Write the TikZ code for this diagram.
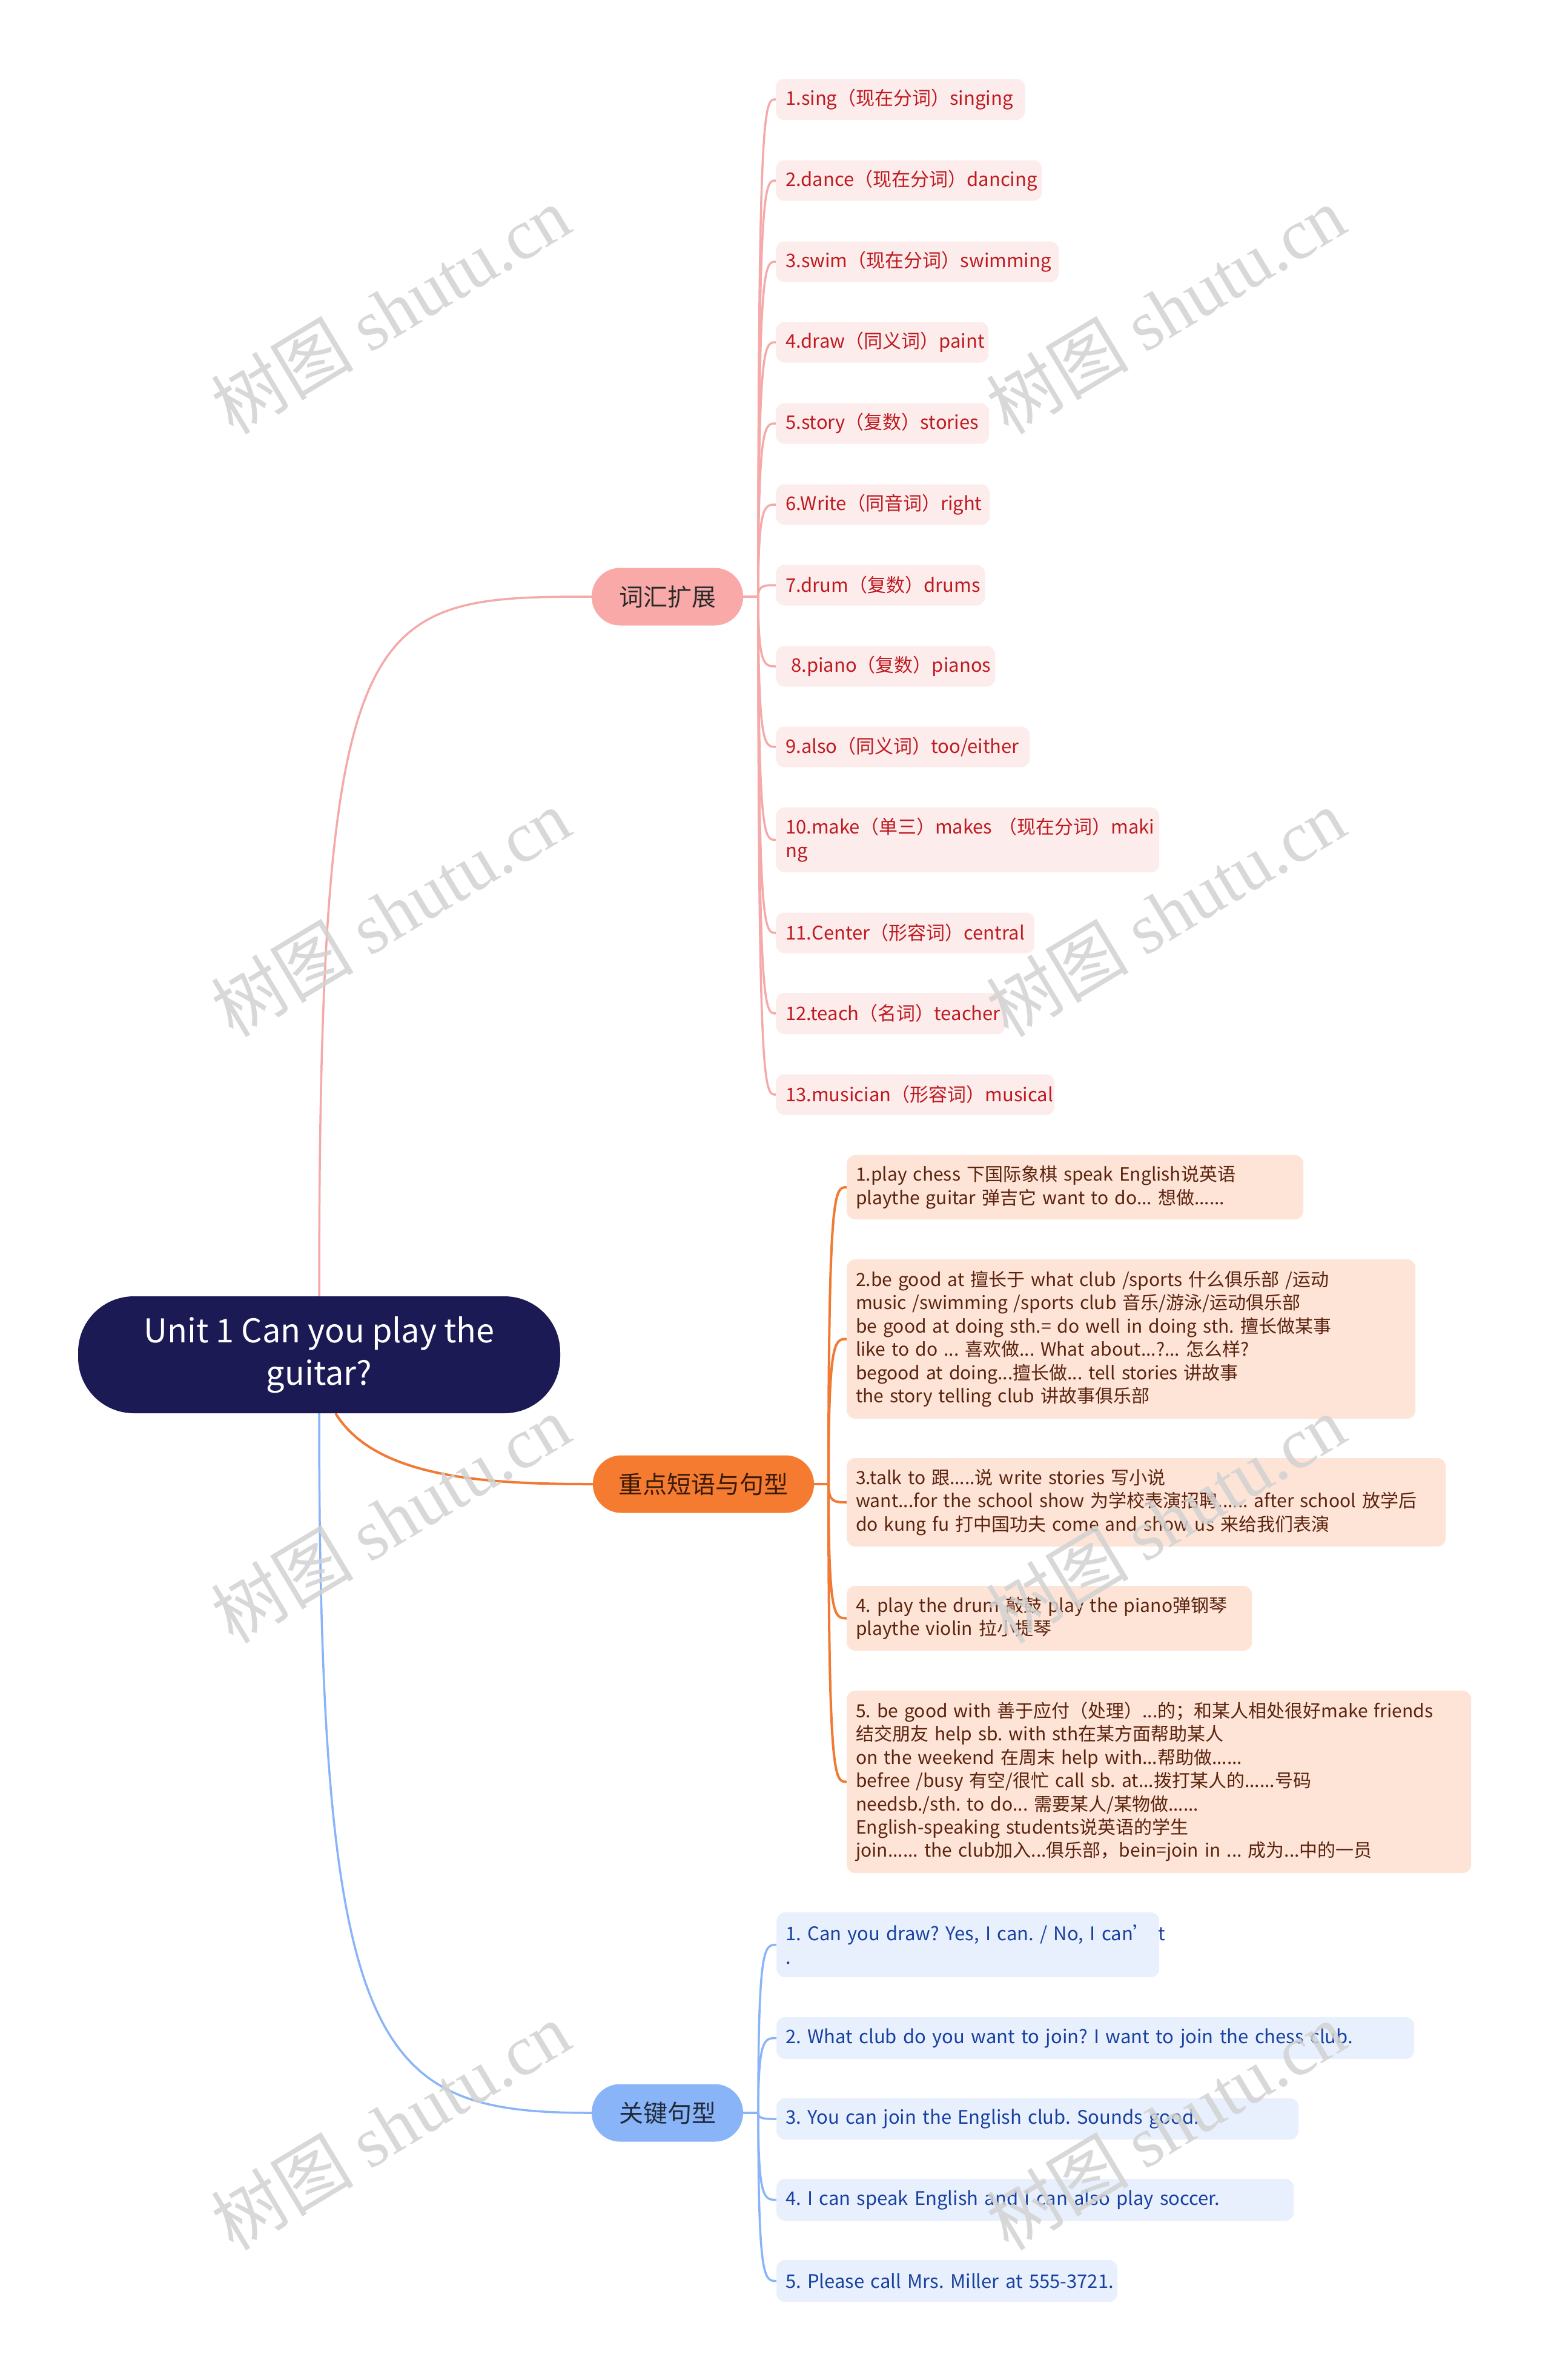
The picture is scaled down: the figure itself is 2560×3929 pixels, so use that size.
\documentclass[tikz,border=0pt]{standalone}
\usepackage{fontspec}
\setmainfont{Noto Sans CJK SC}
\newfontfamily\wmfont{Liberation Serif}
\usetikzlibrary{calc,backgrounds}
\definecolor{rootc}{HTML}{1B1A55}
\definecolor{vfill}{HTML}{F8A9A8}
\definecolor{vline}{HTML}{F5A9A9}
\definecolor{vbox}{HTML}{FDECEC}
\definecolor{vtext}{HTML}{BE1A1F}
\definecolor{kfill}{HTML}{F57B31}
\definecolor{kline}{HTML}{F07A33}
\definecolor{kbox}{HTML}{FDE4D7}
\definecolor{ktext}{HTML}{5B230E}
\definecolor{sfill}{HTML}{8AB4F8}
\definecolor{sline}{HTML}{8AB4F8}
\definecolor{sbox}{HTML}{E8F0FD}
\definecolor{stext}{HTML}{1740A0}
\definecolor{ltext}{HTML}{2A2A2A}
\definecolor{ktxt}{HTML}{3A1A08}
\definecolor{stxt}{HTML}{1F2A3A}
\definecolor{wm}{HTML}{D2D2D2}
\newcommand\myl[1]{\mbox{#1}}
\frenchspacing
\begin{document}
\begin{tikzpicture}[x=1pt,y=-1pt,
  rootnode/.style={fill=rootc, rounded corners=92pt, minimum width=796pt, minimum height=193pt, inner sep=0pt, text=white, align=center, font=\fontsize{54}{70}\selectfont},
  lone/.style={rounded corners=47pt, minimum height=95pt, inner sep=0pt, font=\fontsize{40}{48}\selectfont},
  leaf/.style={anchor=west, rounded corners=14pt, inner ysep=0pt, align=left},
  vleaf/.style={leaf, fill=vbox, text=vtext, inner xsep=16pt, font=\fontsize{31}{38.5}\selectfont},
  kleaf/.style={leaf, fill=kbox, text=ktext, inner xsep=15pt, font=\fontsize{30}{38.4}\selectfont},
  sleaf/.style={leaf, fill=sbox, text=stext, inner xsep=15pt, font=\fontsize{31}{39}\selectfont},
  vcon/.style={draw=vline, line width=3.5pt},
  kcon/.style={draw=kline, line width=4pt},
  scon/.style={draw=sline, line width=3.5pt},
  wmark/.style={text=wm, opacity=0.85, rotate=31, font=\fontsize{118}{118}\selectfont, inner sep=0pt}
]
\useasboundingbox (0,0) rectangle (2560,3929);

% root and main branches
\node[rootnode] (root) at (527,2236.5) {Unit 1 Can you play the\\guitar?};
\node[lone, fill=vfill, text=ltext, minimum width=250pt] (v) at (1102,985) {词汇扩展};
\node[lone, fill=kfill, text=ktxt, minimum width=365pt] (k) at (1161.5,2450) {重点短语与句型};
\node[lone, fill=sfill, text=stxt, minimum width=250pt] (s) at (1102,3488) {关键句型};

\coordinate (vj) at (1252,985);
\coordinate (kj) at (1368,2450);
\coordinate (sj) at (1252,3488);

% vocabulary leaves
\node[vleaf, text width=379pt, minimum height=68pt] (p1) at (1281,164) {\myl{1.sing（现在分词）singing}};
\node[vleaf, text width=407pt, minimum height=67pt] (p2) at (1281,298) {\myl{2.dance（现在分词）dancing}};
\node[vleaf, text width=435pt, minimum height=67pt] (p3) at (1281,432) {\myl{3.swim（现在分词）swimming}};
\node[vleaf, text width=319pt, minimum height=67pt] (p4) at (1281,565) {\myl{4.draw（同义词）paint}};
\node[vleaf, text width=320pt, minimum height=67pt] (p5) at (1281,699) {\myl{5.story（复数）stories}};
\node[vleaf, text width=321pt, minimum height=67pt] (p6) at (1281,833) {\myl{6.Write（同音词）right}};
\node[vleaf, text width=313pt, minimum height=67pt] (p7) at (1281,966) {\myl{7.drum（复数）drums}};
\node[vleaf, text width=330pt, minimum height=67pt] (p8) at (1281,1100) {\myl{\hspace*{9pt}8.piano（复数）pianos}};
\node[vleaf, text width=387pt, minimum height=67pt] (p9) at (1281,1233) {\myl{9.also（同义词）too/either}};
\node[vleaf, text width=601pt, minimum height=107pt] (p10) at (1281,1386.5) {\myl{10.make（单三）makes （现在分词）maki}\\\myl{ng}};
\node[vleaf, text width=395pt, minimum height=67pt] (p11) at (1281,1540) {\myl{11.Center（形容词）central}};
\node[vleaf, text width=347pt, minimum height=68pt] (p12) at (1281,1673) {\myl{12.teach（名词）teacher}};
\node[vleaf, text width=428pt, minimum height=67pt] (p13) at (1281,1807) {\myl{13.musician（形容词）musical}};

% phrase leaves
\node[kleaf, text width=724pt, minimum height=106pt] (o1) at (1398,1960) {\myl{1.play chess 下国际象棋 speak English说英语}\\\myl{playthe guitar 弹吉它 want to do... 想做......}};
\node[kleaf, text width=909pt, minimum height=263pt] (o2) at (1398,2210.5) {\myl{2.be good at 擅长于 what club /sports 什么俱乐部 /运动}\\\myl{music /swimming /sports club 音乐/游泳/运动俱乐部}\\\myl{be good at doing sth.= do well in doing sth. 擅长做某事}\\\myl{like to do ... 喜欢做... What about...?... 怎么样?}\\\myl{begood at doing...擅长做... tell stories 讲故事}\\\myl{the story telling club 讲故事俱乐部}};
\node[kleaf, text width=959pt, minimum height=146pt] (o3) at (1398,2480) {\myl{3.talk to 跟.....说 write stories 写小说}\\\myl{want...for the school show 为学校表演招聘...... after school 放学后}\\\myl{do kung fu 打中国功夫 come and show us 来给我们表演}};
\node[kleaf, text width=639pt, minimum height=107pt] (o4) at (1398,2671.5) {\myl{4. play the drum 敲鼓 play the piano弹钢琴}\\\myl{playthe violin 拉小提琴}};
\node[kleaf, text width=1001pt, minimum height=301pt] (o5) at (1398,2941.5) {\myl{5. be good with 善于应付（处理）...的；和某人相处很好make friends}\\\myl{结交朋友 help sb. with sth在某方面帮助某人}\\\myl{on the weekend 在周末 help with...帮助做......}\\\myl{befree /busy 有空/很忙 call sb. at...拨打某人的......号码}\\\myl{needsb./sth. to do... 需要某人/某物做......}\\\myl{English-speaking students说英语的学生}\\\myl{join...... the club加入...俱乐部，bein=join in ... 成为...中的一员}};

% sentence leaves
\node[sleaf, text width=602pt, minimum height=107pt] (b1) at (1282,3210.5) {\myl{1. Can you draw? Yes, I can. / No, I can’ t}\\\myl{.}};
\node[sleaf, text width=1023pt, minimum height=69pt] (b2) at (1282,3364.5) {\myl{2. What club do you want to join? I want to join the chess club.}};
\node[sleaf, text width=832pt, minimum height=68pt] (b3) at (1282,3498) {\myl{3. You can join the English club. Sounds good.}};
\node[sleaf, text width=824pt, minimum height=69pt] (b4) at (1282,3631.5) {\myl{4. I can speak English and I can also play soccer.}};
\node[sleaf, text width=533pt, minimum height=69pt] (b5) at (1282,3765.5) {\myl{5. Please call Mrs. Miller at 555-3721.}};

\begin{scope}[on background layer]
\fill[white] (0,0) rectangle (2560,3929);
\draw[vcon] (root.north) .. controls (527,1000) and (600,985) .. (v.west);
\draw[kcon] ($(root.south)+(27,0)$) .. controls (620,2440) and (800,2450) .. (k.west);
\draw[scon] (root.south) .. controls (527,3400) and (620,3488) .. (s.west);
\draw[vcon] (v.east) -- (vj);
\draw[kcon] (k.east) -- (kj);
\draw[scon] (s.east) -- (sj);
\foreach \i in {1,...,13} \draw[vcon] (vj) .. controls (vj |- p\i.west) and ($(vj |- p\i.west)+(10,0)$) .. (p\i.west);
\foreach \i in {1,...,5} \draw[kcon] (kj) .. controls (kj |- o\i.west) and ($(kj |- o\i.west)+(10,0)$) .. (o\i.west);
\foreach \i in {1,...,5} \draw[scon] (sj) .. controls (sj |- b\i.west) and ($(sj |- b\i.west)+(10,0)$) .. (b\i.west);
\end{scope}

% watermarks
\node[wmark] (w1) at (645,511) {树图 {\wmfont shutu.cn}};
\node[wmark] (w2) at (1925,511) {树图 {\wmfont shutu.cn}};
\node[wmark] (w3) at (645,1506) {树图 {\wmfont shutu.cn}};
\node[wmark] (w4) at (1925,1506) {树图 {\wmfont shutu.cn}};
\node[wmark] (w5) at (645,2507) {树图 {\wmfont shutu.cn}};
\node[wmark] (w6) at (1925,2507) {树图 {\wmfont shutu.cn}};
\node[wmark] (w7) at (645,3509) {树图 {\wmfont shutu.cn}};
\node[wmark] (w8) at (1925,3509) {树图 {\wmfont shutu.cn}};
\end{tikzpicture}
\end{document}
